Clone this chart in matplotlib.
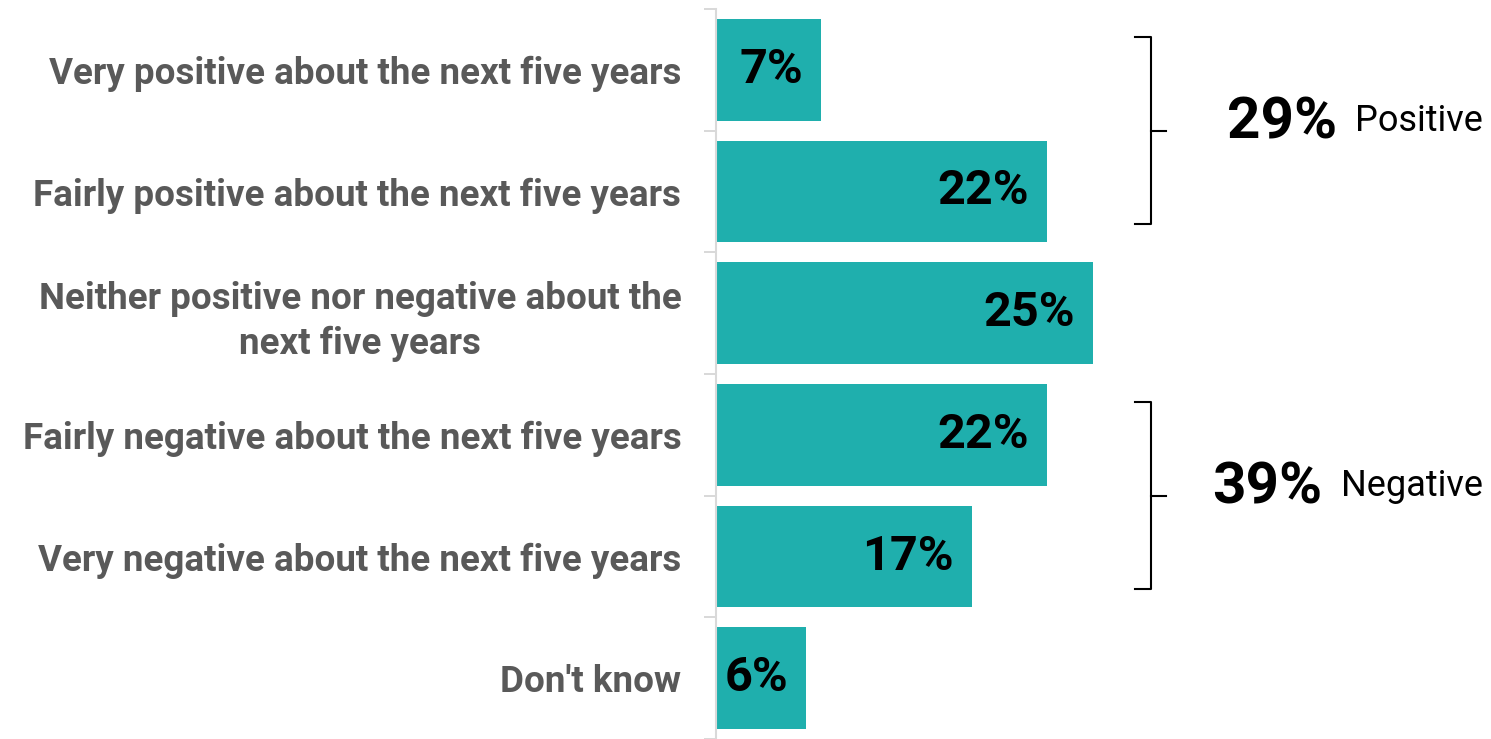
import numpy as np
import matplotlib
matplotlib.use("Agg")
import matplotlib.pyplot as plt

# data
cats = ["Very positive about the next five years",
        "Fairly positive about the next five years",
        "Neither positive nor negative about the\nnext five years",
        "Fairly negative about the next five years",
        "Very negative about the next five years",
        "Don't know"]
vals = [7, 22, 25, 22, 17, 6]
groups = [[0, 1], [3, 4]]
group_vals = [29, 39]
group_names = ["Positive", "Negative"]

teal = "#1FAFAD"
grey = "#D9D9D9"

plt.rcParams['font.family'] = ['Roboto', 'DejaVu Sans']

fig = plt.figure(figsize=(14.91, 7.39), dpi=100)
ax = fig.add_axes([716/1491, 0, (1491-716)/1491, 730/739])

y = np.arange(len(cats))
ax.barh(y, vals, height=0.835, color=teal)
ax.set_ylim(5.42, -0.5)
ax.set_xlim(0, 51.46)

for i in range(len(vals)):
    ax.annotate(str(vals[i]) + "%", (vals[i], y[i]), xytext=(-18, 0),
                textcoords="offset pixels", ha="right", va="center",
                fontsize=35, fontweight="bold", color="black")

# axis styling
for s in ["top", "right", "bottom"]:
    ax.spines[s].set_visible(False)
ax.spines["left"].set_color(grey)
ax.spines["left"].set_linewidth(1.5)
ax.set_xticks([])
ax.set_yticks(y)
ax.set_yticklabels(cats, fontsize=26.5, fontweight="bold", color="#595959",
                   multialignment="center")
for lab in ax.get_yticklabels():
    lab.set_linespacing(1.3)
ax.set_yticks(np.arange(-0.5, len(cats), 1), minor=True)
ax.tick_params(axis="y", which="major", length=0, pad=25)
ax.tick_params(axis="y", which="minor", length=8.6, width=1.44, color=grey)

# brackets
bx = 28.9
for g in range(len(groups)):
    mid = np.mean(groups[g])
    top = mid - 0.77
    bot = mid + 0.77
    ax.plot([bx - 1.1, bx, bx, bx - 1.1], [top, top, bot, bot],
            color="black", lw=1.5, clip_on=False, solid_joinstyle="round")
    ax.plot([bx, bx + 1.0], [mid, mid], color="black", lw=1.5, clip_on=False)
    t = ax.annotate(group_names[g], (50.9, mid), xytext=(0, 0),
                    textcoords="offset pixels", ha="right", va="baseline",
                    fontsize=26, color="black")
    ax.annotate(str(group_vals[g]) + "%", xy=(0, 0), xycoords=t,
                xytext=(-18, 0), textcoords="offset pixels",
                ha="right", va="baseline", fontsize=42, fontweight="bold",
                color="black")

plt.savefig("out.png", dpi=100)
